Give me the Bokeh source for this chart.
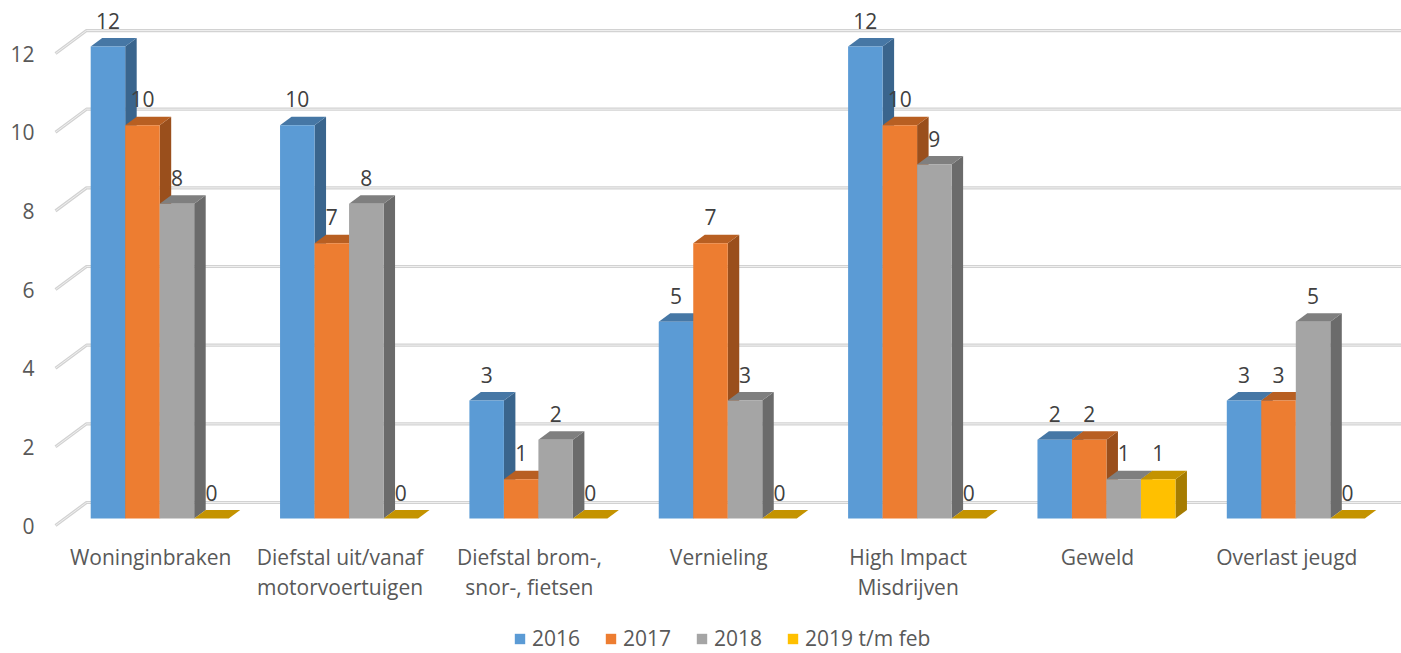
from bokeh.plotting import figure
from bokeh.models import Range1d, LinearAxis, FixedTicker, Legend, LegendItem, ColumnDataSource
from bokeh.core.properties import value
from bokeh.embed import file_html
from bokeh.resources import INLINE

categories = ["Woninginbraken", "Diefstal uit/vanaf\nmotorvoertuigen", "Diefstal brom-,\nsnor-, fietsen",
              "Vernieling", "High Impact\nMisdrijven", "Geweld", "Overlast jeugd"]
series_names = ["2016", "2017", "2018", "2019 t/m feb"]
v2016 = [12, 10, 3, 5, 12, 2, 3]
v2017 = [10, 7, 1, 7, 10, 2, 3]
v2018 = [8, 8, 2, 3, 9, 1, 5]
v2019 = [0, 0, 0, 0, 0, 1, 0]
y_ticks = [0, 2, 4, 6, 8, 10, 12]
front_colors = ["#5B9BD5", "#ED7D31", "#A5A5A5", "#FFC000"]
top_colors = ["#4677A5", "#B85F22", "#7F7F7F", "#C49300"]
side_colors = ["#3A658D", "#9A4F1C", "#6B6B6B", "#A67C00"]

FONT = "Open Sans"
PX_X = 189.35         # pixels per category
PX_Y = 39.33          # pixels per value unit
FRAME_L, FRAME_R, FRAME_T, FRAME_B = 40, 1401, 0, 653
X0_PX, Y0_PX = 151.2, 525  # category 0 / value 0 on the axis plane
def dx(px): return px / PX_X
def dy(px): return px / PX_Y

p = figure(width=FRAME_R, height=FRAME_B, output_backend="svg", toolbar_location=None,
           min_border_left=FRAME_L, min_border_top=0, min_border_right=0, min_border_bottom=0,
           x_range=Range1d((FRAME_L - X0_PX) / PX_X, (FRAME_R - X0_PX) / PX_X),
           y_range=Range1d((Y0_PX - FRAME_B) / PX_Y, (Y0_PX - FRAME_T) / PX_Y),
           x_axis_type=None, y_axis_type=None, background_fill_color="white",
           border_fill_color="white", outline_line_color=None)
p.grid.visible = False

# gridlines: front stub, then back wall
wall_x0, wall_y = dx(31), dy(23)
start = dx(55 - X0_PX)
for t in y_ticks:
    xs = [start, start + wall_x0, (FRAME_R - X0_PX) / PX_X]
    ys = [t, t + wall_y, t + wall_y]
    p.line(xs, ys, line_color="#D2D2D2", line_width=3.2)
    p.line(xs, ys, line_color="#EFEFEF", line_width=1)

# 3D bars
bar_w = dx(34.5)
plane_x, plane_y = dx(91 - 152), dy(7)
depth_x, depth_y = dx(11.5), dy(8.5)
all_series = [v2016, v2017, v2018, v2019]
items = []
for j, vals in enumerate(all_series):
    lefts = [i + plane_x + j * bar_w for i in range(len(vals))]
    rights = [l + bar_w for l in lefts]
    tops = [v + plane_y for v in vals]
    bottoms = [plane_y] * len(vals)
    p.patches([[r, r + depth_x, r + depth_x, r] for r in rights],
              [[b, b + depth_y, t + depth_y, t] for b, t in zip(bottoms, tops)],
              fill_color=side_colors[j], line_color=None)
    p.patches([[l, r, r + depth_x, l + depth_x] for l, r in zip(lefts, rights)],
              [[t, t, t + depth_y, t + depth_y] for t in tops],
              fill_color=top_colors[j], line_color=None)
    q = p.quad(left=lefts, right=rights, top=tops, bottom=bottoms, fill_color=front_colors[j], line_color=None)
    items.append(LegendItem(label=series_names[j], renderers=[q]))

# value labels, in a second pass so that bars never cover them
for j, vals in enumerate(all_series):
    src = ColumnDataSource(dict(
        x=[i + plane_x + (j + 0.5) * bar_w for i in range(len(vals))],
        y=[v + plane_y + dy(26) for v in vals],
        t=[str(v) for v in vals]))
    p.text("x", "y", text="t", source=src, text_font=value(FONT), text_font_size="21px",
           text_color="#404040", text_align="center", text_baseline="middle")

# category labels, one entry per line
lx, ly, lt = [], [], []
for i, c in enumerate(categories):
    for k, line in enumerate(c.split("\n")):
        lx.append(i - dx(1))
        ly.append(dy(Y0_PX - 556 - k * 30))
        lt.append(line)
p.text(lx, ly, text=lt, text_font=value(FONT), text_font_size="21px", text_color="#595959",
       text_align="center", text_baseline="middle")

yaxis = LinearAxis(ticker=FixedTicker(ticks=y_ticks), axis_line_color=None, major_tick_line_color=None,
                   minor_tick_line_color=None, major_tick_out=0, major_tick_in=0, major_label_standoff=6,
                   major_label_text_font=FONT, major_label_text_font_size="21px",
                   major_label_text_color="#595959")
p.add_layout(yaxis, "left")

legend = Legend(items=items, orientation="horizontal", location=(473, 1), border_line_color=None,
                background_fill_alpha=0, label_text_font=FONT, label_text_font_size="21px",
                label_text_color="#595959", glyph_width=13, glyph_height=13, label_standoff=6,
                spacing=24, padding=0, margin=0, label_height=20)
p.add_layout(legend, "center")

open("out.html", "w").write(file_html(p, INLINE))
